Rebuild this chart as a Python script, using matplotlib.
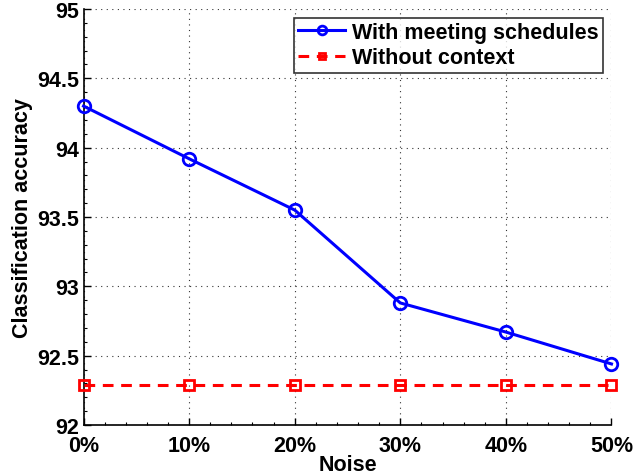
import matplotlib
matplotlib.use("Agg")
import matplotlib.pyplot as plt
from matplotlib.ticker import AutoMinorLocator

noise_labels = ["0%", "10%", "20%", "30%", "40%", "50%"]
noise = [0, 10, 20, 30, 40, 50]
with_schedules = [94.30, 93.92, 93.55, 92.88, 92.67, 92.44]
without_context = [92.29, 92.29, 92.29, 92.29, 92.29, 92.29]
y_ticks = [92, 92.5, 93, 93.5, 94, 94.5, 95]
y_tick_labels = ['92', '92.5', '93', '93.5', '94', '94.5', '95']

plt.rcParams['font.family'] = ['Liberation Sans', 'DejaVu Sans']
plt.rcParams['font.weight'] = 'bold'

fig = plt.figure(figsize=(6.33, 4.77), dpi=100)
ax = fig.add_axes([0.132, 0.107, 0.834, 0.872])

ax.plot(noise, with_schedules, color='#0000ff', linewidth=2.2, marker='o',
        markersize=9, markerfacecolor='none', markeredgewidth=2,
        label='With meeting schedules', clip_on=False, zorder=3)
ax.plot(noise, without_context, color='#ff0000', linewidth=2.2, linestyle=(0, (3.5, 2.5)),
        marker='s', markersize=7, markerfacecolor='none', markeredgewidth=2,
        label='Without context', clip_on=False, zorder=3)

ax.set_xlim(0, 50)
ax.set_ylim(92, 95)
ax.set_xticks(noise)
ax.set_xticklabels(noise_labels)
ax.set_yticks(y_ticks)
ax.set_yticklabels(y_tick_labels)
ax.xaxis.set_minor_locator(AutoMinorLocator(5))
ax.yaxis.set_minor_locator(AutoMinorLocator(5))
ax.tick_params(which='both', direction='in', labelsize=15.5)
ax.tick_params(axis='x', pad=7.5)
ax.tick_params(axis='y', pad=3)
ax.tick_params(which='major', length=5, width=1)
ax.tick_params(which='minor', length=2.5, width=0.8)
for lbl in ax.get_xticklabels() + ax.get_yticklabels():
    lbl.set_fontweight('bold')

ax.spines['top'].set_visible(False)
ax.spines['right'].set_visible(False)
ax.spines['left'].set_linewidth(1.2)
ax.spines['bottom'].set_linewidth(1.2)

ax.grid(True, which='major', linestyle=(0, (1, 4)), color='#333333', linewidth=0.8)

ax.set_xlabel('Noise', fontsize=15.5, fontweight='bold')
ax.xaxis.set_label_coords(0.5, -0.071)
ax.set_ylabel('Classification accuracy', fontsize=15.5, fontweight='bold')
ax.yaxis.set_label_coords(-0.095, 0.5)

leg = ax.legend(loc='upper right', frameon=True, fancybox=False,
                edgecolor='black', borderpad=0.2, labelspacing=0.2,
                handlelength=2.2, handletextpad=0.3, borderaxespad=0.4,
                prop={'weight': 'bold', 'size': 15.5}, markerscale=0.7)
leg.get_frame().set_linewidth(1.2)

fig.savefig('out.png', dpi=100)
